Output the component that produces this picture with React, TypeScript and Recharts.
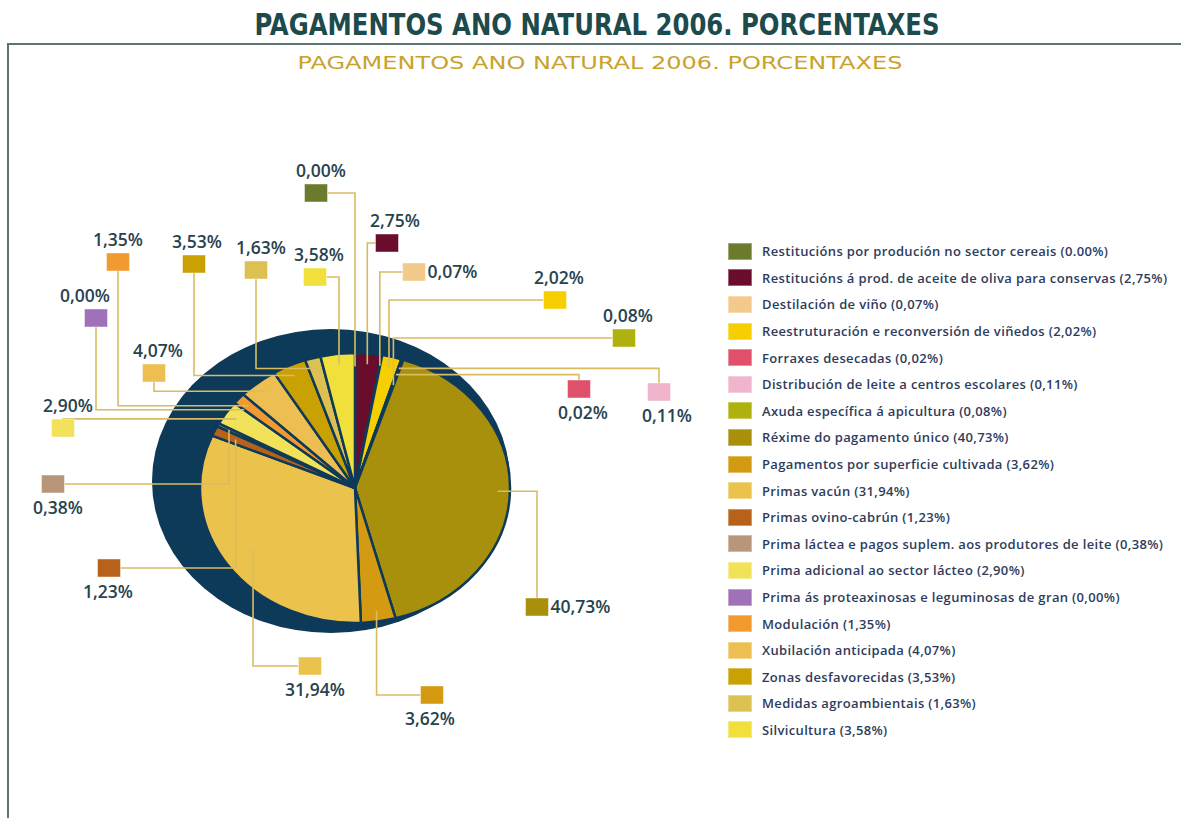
import { PieChart, Pie, Cell, Legend } from "recharts";

// payment lines, clockwise from 12 o'clock
const categories = [
  "Restitucións por produción no sector cereais",
  "Restitucións á prod. de aceite de oliva para conservas",
  "Destilación de viño",
  "Reestruturación e reconversión de viñedos",
  "Forraxes desecadas",
  "Distribución de leite a centros escolares",
  "Axuda específica á apicultura",
  "Réxime do pagamento único",
  "Pagamentos por superficie cultivada",
  "Primas vacún",
  "Primas ovino-cabrún",
  "Prima láctea e pagos suplem. aos produtores de leite",
  "Prima adicional ao sector lácteo",
  "Prima ás proteaxinosas e leguminosas de gran",
  "Modulación",
  "Xubilación anticipada",
  "Zonas desfavorecidas",
  "Medidas agroambientais",
  "Silvicultura",
];

const values = [
  0.0, 2.75, 0.07, 2.02, 0.02, 0.11, 0.08, 40.73, 3.62, 31.94, 1.23, 0.38, 2.9,
  0.0, 1.35, 4.07, 3.53, 1.63, 3.58,
];

const pctLabels = [
  "0,00%", "2,75%", "0,07%", "2,02%", "0,02%", "0,11%", "0,08%", "40,73%",
  "3,62%", "31,94%", "1,23%", "0,38%", "2,90%", "0,00%", "1,35%", "4,07%",
  "3,53%", "1,63%", "3,58%",
];

const legendPct = ["0.00%", ...pctLabels.slice(1)];

const colors = [
  "#6b7b2e", "#6a0c2c", "#f4c98c", "#f6cf00", "#e0506a", "#f0b4cc", "#aeb10e",
  "#a8900c", "#d49a12", "#ebc34c", "#b6621a", "#b8967a", "#f2e25a", "#a070b8",
  "#f09a30", "#edbf52", "#c9a102", "#dcc052", "#f1df3c",
];

// where each callout box sits, how its leader bends, how far it reaches in
const labelSpots = [
  { x: 316, y: 193, side: "above", route: "h", reach: 0.9, dx: 5 },
  { x: 387, y: 243, side: "above", route: "h", reach: 0.92, dx: 8 },
  { x: 414, y: 272, side: "right", route: "h", reach: 0.92, dx: 0 },
  { x: 555, y: 300, side: "above", route: "h", reach: 0.92, dx: 4 },
  { x: 579, y: 389, side: "below", route: "v", reach: 0.88, dx: 4 },
  { x: 659, y: 392, side: "below", route: "v", reach: 0.93, dx: 8 },
  { x: 624, y: 338, side: "above", route: "h", reach: 0.8, dx: 4 },
  { x: 537, y: 607, side: "right", route: "v", reach: 0.92, dx: 0 },
  { x: 432, y: 695, side: "below", route: "h", reach: 0.92, dx: -2 },
  { x: 310, y: 666, side: "below", route: "h", reach: 0.8, dx: 5 },
  { x: 109, y: 568, side: "below", route: "h", reach: 0.85, dx: -1 },
  { x: 53, y: 484, side: "below", route: "h", reach: 0.92, dx: 5 },
  { x: 63, y: 428, side: "above", route: "v", reach: 0.92, dx: 5 },
  { x: 96, y: 318, side: "above", route: "v", reach: 0.92, dx: -11 },
  { x: 118, y: 262, side: "above", route: "v", reach: 0.92, dx: 0 },
  { x: 154, y: 373, side: "above", route: "v", reach: 0.92, dx: 4 },
  { x: 194, y: 264, side: "above", route: "v", reach: 0.92, dx: 3 },
  { x: 256, y: 270, side: "above", route: "v", reach: 0.92, dx: 5 },
  { x: 315, y: 277, side: "above", route: "h", reach: 0.92, dx: 4 },
];

const pieData = categories.map((name, i) => ({ name, value: values[i] }));

const NAVY = "#0e3a5a";
const LEADER = "#d9bc62";
const INK = "#27434e";
const STRETCH = 155 / 135;
const RAD = Math.PI / 180;
const BOX_W = 23;
const BOX_H = 18;

function EllipseSector(props: any) {
  const { cx, cy, outerRadius, startAngle, endAngle, fill } = props;
  if (Math.abs(endAngle - startAngle) < 0.01) return <g />;
  const ry = outerRadius;
  const rx = outerRadius * STRETCH;
  const pt = (a: number) => [cx + rx * Math.cos(-a * RAD), cy + ry * Math.sin(-a * RAD)];
  const [x1, y1] = pt(startAngle);
  const [x2, y2] = pt(endAngle);
  const large = Math.abs(startAngle - endAngle) > 180 ? 1 : 0;
  const sweep = startAngle > endAngle ? 1 : 0;
  return (
    <path
      d={`M${cx},${cy} L${x1},${y1} A${rx},${ry} 0 ${large} ${sweep} ${x2},${y2} Z`}
      fill={fill}
      stroke={NAVY}
      strokeWidth={2.5}
      strokeLinejoin="round"
    />
  );
}

function Callout(p: any) {
  const spot = labelSpots[p.index];
  const r = p.outerRadius * spot.reach;
  const ex = p.cx + r * STRETCH * Math.cos(-p.midAngle * RAD);
  const ey = p.cy + r * Math.sin(-p.midAngle * RAD);
  let pts: number[][];
  if (spot.route === "h") {
    const sx = ex < spot.x ? spot.x - BOX_W / 2 : spot.x + BOX_W / 2;
    pts = [[sx, spot.y], [ex, spot.y], [ex, ey]];
  } else {
    const sy = ey < spot.y ? spot.y - BOX_H / 2 : spot.y + BOX_H / 2;
    pts = [[spot.x, sy], [spot.x, ey], [ex, ey]];
  }
  let tx = spot.x + spot.dx;
  let ty = spot.y - BOX_H / 2 - 7;
  let anchor = "middle";
  if (spot.side === "below") ty = spot.y + BOX_H / 2 + 21;
  if (spot.side === "right") {
    tx = spot.x + BOX_W / 2 + 2;
    ty = spot.y + 6;
    anchor = "start";
  }
  return (
    <g>
      <polyline
        points={pts.map((q) => q.join(",")).join(" ")}
        fill="none"
        stroke={LEADER}
        strokeWidth={1.6}
      />
      <rect
        x={spot.x - BOX_W / 2}
        y={spot.y - BOX_H / 2}
        width={BOX_W}
        height={BOX_H}
        fill={colors[p.index]}
        stroke="rgba(255,255,255,0.45)"
        strokeWidth={1}
      />
      <text
        x={tx}
        y={ty}
        textAnchor={anchor as any}
        fontSize={17.5}
        fontWeight={600}
        fill={INK}
        fontFamily="'Open Sans', 'Liberation Sans', sans-serif"
      >
        {pctLabels[p.index]}
      </text>
    </g>
  );
}

function LegendList({ payload }: any) {
  const items = payload && payload.length ? payload : pieData.map((d) => ({ value: d.name }));
  return (
    <div>
      {items.map((entry: any, i: number) => (
        <div
          key={i}
          style={{ display: "flex", alignItems: "center", height: 26.6 }}
        >
          <span
            style={{
              display: "inline-block",
              width: 24,
              height: 17,
              background: colors[i],
              boxShadow: "inset 0 0 0 1px rgba(255,255,255,0.35)",
              marginRight: 10,
            }}
          />
          <span
            style={{
              fontFamily: "'Open Sans', 'Liberation Sans', sans-serif",
              fontSize: 13,
              fontWeight: 600,
              letterSpacing: 0.35,
              color: "#2e3c5c",
              whiteSpace: "nowrap",
            }}
          >
            {`${categories[i]} (${legendPct[i]})`}
          </span>
        </div>
      ))}
    </div>
  );
}

export default function App() {
  return (
    <div
      style={{
        position: "absolute",
        left: 0,
        top: 0,
        width: 1181,
        height: 820,
        background: "#ffffff",
        overflow: "hidden",
      }}
    >
      <svg
        width={1181}
        height={820}
        style={{ position: "absolute", left: 0, top: 0 }}
      >
        <text
          x={597}
          y={35}
          textAnchor="middle"
          fontSize={30}
          fontWeight="bold"
          fill="#1d4a4c"
          textLength={685}
          lengthAdjust="spacingAndGlyphs"
          fontFamily="'Liberation Sans Narrow', 'DejaVu Sans Condensed', 'Liberation Sans', sans-serif"
        >
          PAGAMENTOS ANO NATURAL 2006. PORCENTAXES
        </text>
        <line x1={7} y1={44} x2={1181} y2={44} stroke="#5d7474" strokeWidth={2} />
        <line x1={8} y1={44} x2={8} y2={818} stroke="#5d7474" strokeWidth={2} />
        <text
          x={600}
          y={69}
          textAnchor="middle"
          fontSize={18}
          fill="#c9a22c"
          textLength={605}
          lengthAdjust="spacingAndGlyphs"
          fontFamily="'DejaVu Sans', sans-serif"
        >
          PAGAMENTOS ANO NATURAL 2006. PORCENTAXES
        </text>
        <ellipse cx={331} cy={481} rx={179} ry={152} fill={NAVY} />
      </svg>
      <div style={{ position: "absolute", left: 0, top: 0 }}>
        <PieChart width={1181} height={820}>
          <Pie
            data={pieData}
            dataKey="value"
            nameKey="name"
            cx={350}
            cy={483}
            outerRadius={135}
            startAngle={90}
            endAngle={-270}
            stroke={NAVY}
            strokeWidth={2.5}
            shape={EllipseSector}
            label={Callout}
            labelLine={false}
            isAnimationActive={false}
          >
            {pieData.map((d, i) => (
              <Cell key={d.name} fill={colors[i]} />
            ))}
          </Pie>
          <Legend
            content={LegendList}
            wrapperStyle={{ position: "absolute", left: 728, top: 238, width: 450 }}
          />
        </PieChart>
      </div>
    </div>
  );
}
